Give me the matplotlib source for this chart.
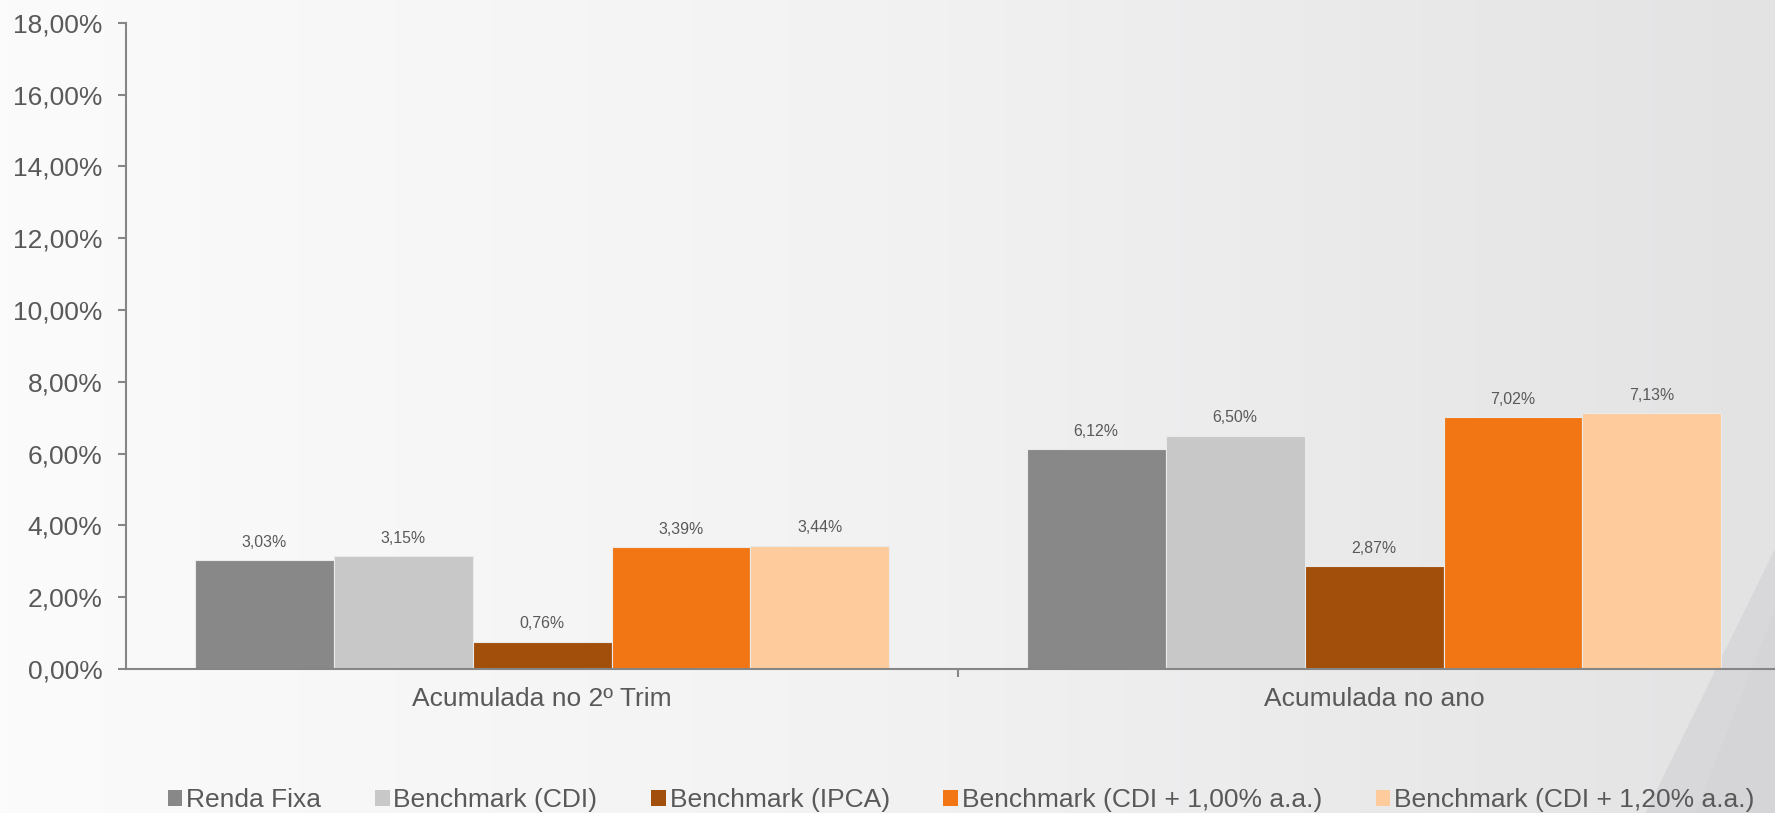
import matplotlib.pyplot as plt
import numpy as np
from matplotlib.patches import Patch, Polygon
from matplotlib.colors import LinearSegmentedColormap

plt.rcParams['font.family'] = ['Liberation Sans', 'DejaVu Sans']

# dados do gráfico
categorias = ['Acumulada no 2º Trim', 'Acumulada no ano']
series = ['Renda Fixa', 'Benchmark (CDI)', 'Benchmark (IPCA)',
          'Benchmark (CDI + 1,00% a.a.)', 'Benchmark (CDI + 1,20% a.a.)']
renda_fixa = [3.03, 6.12]
bench_cdi = [3.15, 6.50]
bench_ipca = [0.76, 2.87]
bench_cdi_100 = [3.39, 7.02]
bench_cdi_120 = [3.44, 7.13]
valores = [renda_fixa, bench_cdi, bench_ipca, bench_cdi_100, bench_cdi_120]
cores = ['#888888', '#C8C8C8', '#A24F0C', '#F27613', '#FECC9C']
yticks = [0, 2, 4, 6, 8, 10, 12, 14, 16, 18]

texto = '#595959'
eixo = '#868686'

fig = plt.figure(figsize=(17.75, 8.13), dpi=100)

# fundo em degradê
bg = fig.add_axes([0, 0, 1, 1], zorder=-10)
grad = np.linspace(0, 1, 256).reshape(1, -1)
cmap = LinearSegmentedColormap.from_list('bg', ['#FBFBFB', '#F2F2F3', '#E3E3E4'])
bg.imshow(grad, aspect='auto', cmap=cmap, extent=[0, 1, 0, 1])
bg.add_patch(Polygon([[1.0, 0.325], [0.927, 0.0], [1.0, 0.0]], closed=True,
                     facecolor='#D8D8DA', edgecolor='none'))
bg.add_patch(Polygon([[1.0, 0.25], [0.955, 0.0], [1.0, 0.0]], closed=True,
                     facecolor='#D3D3D5', edgecolor='none', alpha=0.5))
bg.set_xlim(0, 1)
bg.set_ylim(0, 1)
bg.axis('off')

ax = fig.add_axes([0.071, 0.177, 0.9375, 0.795])
ax.patch.set_alpha(0)

x = np.arange(len(categorias))
largura = 0.167
for i, (nome, vals, cor) in enumerate(zip(series, valores, cores)):
    pos = x + (i - 2) * largura
    bars = ax.bar(pos, vals, largura, color=cor, edgecolor='#EAEAEA', linewidth=0.8,
                  label=nome, zorder=2)
    for b, v in zip(bars, vals):
        ax.annotate(f'{v:.2f}%'.replace('.', ','), (b.get_x() + b.get_width() / 2, v),
                    xytext=(0, 7.5), textcoords='offset points', ha='center', va='bottom',
                    fontsize=11.4, color=texto)

ax.set_xlim(-0.5, 1.5)
ax.set_ylim(0, 18)
ax.set_yticks(yticks)
ax.set_yticklabels([f'{t:.2f}%'.replace('.', ',') for t in yticks])

ax.set_xticks([0.5])
ax.set_xticklabels([])
ax.set_xticks(x, minor=True)
ax.set_xticklabels(categorias, minor=True)
ax.tick_params(axis='x', which='major', length=6, width=1.5, color=eixo, direction='out')
ax.tick_params(axis='x', which='minor', length=0, pad=13, labelsize=19, labelcolor=texto)
ax.tick_params(axis='y', length=6, width=1.5, color=eixo, pad=11, labelsize=19,
               labelcolor=texto)

for lado in ['top', 'right']:
    ax.spines[lado].set_visible(False)
for lado in ['left', 'bottom']:
    ax.spines[lado].set_color(eixo)
    ax.spines[lado].set_linewidth(1.5)

handles = [Patch(facecolor=c, edgecolor='none') for c in cores]
fig.legend(handles, series, loc='center', bbox_to_anchor=(0.5415, 0.016), ncol=5,
           frameon=False, handlelength=0.55, handleheight=0.55, handletextpad=0.15,
           columnspacing=2.03, fontsize=19, labelcolor=texto)

fig.savefig('out.png', dpi=100)
